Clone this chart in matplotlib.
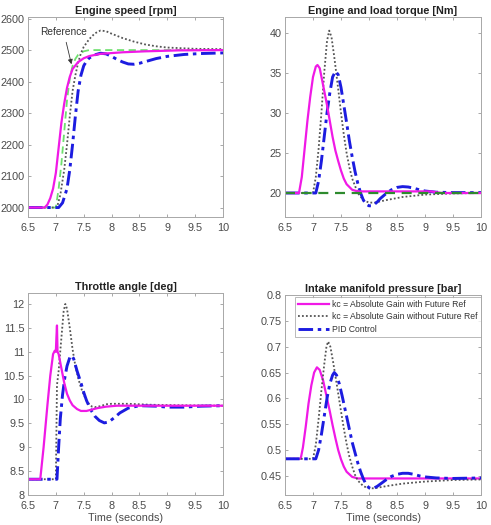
import matplotlib
matplotlib.use("Agg")
import matplotlib.pyplot as plt

# ---------------- data ----------------
# Engine speed [rpm]
spd_ref_t = [6.5, 7.0, 7.05, 7.1, 7.15, 7.2, 7.25, 7.3, 7.35, 7.4, 7.5, 7.6, 10.0]
spd_ref_v = [2000, 2000, 2060, 2140, 2240, 2340, 2410, 2450, 2472, 2485, 2496, 2500, 2500]
spd_fut_t = [6.5, 6.8, 6.85, 6.9, 6.95, 7.0, 7.05, 7.1, 7.15, 7.2, 7.25, 7.3, 7.4, 7.5, 7.6, 7.8, 8.2, 8.6, 9.2, 10.0]
spd_fut_v = [2000, 2000, 2010, 2030, 2060, 2110, 2190, 2270, 2330, 2380, 2415, 2440, 2462, 2474, 2481, 2488, 2493, 2496, 2499, 2500]
spd_nof_t = [6.5, 7.02, 7.08, 7.15, 7.2, 7.25, 7.3, 7.35, 7.4, 7.45, 7.5, 7.6, 7.7, 7.8, 7.9, 8.0, 8.2, 8.4, 8.6, 8.8, 9.0, 9.5, 10.0]
spd_nof_v = [2000, 2000, 2040, 2120, 2200, 2290, 2370, 2420, 2460, 2490, 2510, 2535, 2553, 2562, 2560, 2552, 2538, 2527, 2518, 2512, 2508, 2504, 2503]
spd_pid_t = [6.5, 7.05, 7.12, 7.2, 7.25, 7.3, 7.35, 7.4, 7.45, 7.5, 7.55, 7.6, 7.7, 7.8, 7.9, 8.0, 8.1, 8.2, 8.3, 8.4, 8.5, 8.6, 8.8, 9.0, 9.3, 9.6, 10.0]
spd_pid_v = [2000, 2000, 2015, 2060, 2120, 2200, 2290, 2370, 2420, 2450, 2465, 2475, 2485, 2490, 2488, 2480, 2470, 2462, 2456, 2455, 2458, 2463, 2473, 2480, 2486, 2489, 2491]

# Engine and load torque [Nm]
trq_load_t = [6.5, 10.0]
trq_load_v = [20, 20]
trq_fut_t = [6.5, 6.75, 6.8, 6.85, 6.9, 6.95, 7.0, 7.05, 7.08, 7.12, 7.18, 7.25, 7.3, 7.35, 7.4, 7.45, 7.5, 7.55, 7.6, 7.7, 7.8, 9.1, 9.3, 10.0]
trq_fut_v = [20, 20, 22, 25.5, 29, 32, 34.5, 35.8, 36, 35.6, 33.5, 31, 29, 27, 25.3, 24, 22.8, 21.8, 21.1, 20.4, 20.2, 20.2, 20.0, 20.0]
trq_nof_t = [6.5, 7.0, 7.05, 7.1, 7.15, 7.2, 7.25, 7.29, 7.33, 7.38, 7.45, 7.5, 7.55, 7.6, 7.65, 7.7, 7.8, 7.9, 8.0, 8.1, 8.3, 8.6, 9.0, 9.5, 10.0]
trq_nof_v = [20, 20, 22, 25.5, 30, 35, 39, 40.3, 39.5, 37, 33, 30, 27.3, 25, 23.2, 21.8, 20, 19.1, 18.8, 18.8, 19.1, 19.5, 19.8, 19.95, 20.0]
trq_pid_t = [6.5, 7.05, 7.1, 7.15, 7.2, 7.25, 7.3, 7.35, 7.4, 7.45, 7.5, 7.55, 7.6, 7.65, 7.7, 7.75, 7.8, 7.85, 7.9, 7.95, 8.0, 8.05, 8.1, 8.15, 8.2, 8.3, 8.4, 8.5, 8.6, 8.7, 8.8, 8.9, 9.0, 9.2, 9.5, 10.0]
trq_pid_v = [20, 20, 21.5, 24, 27, 30, 32.5, 34.5, 35.2, 34.8, 33.2, 31, 28.8, 26.5, 24.5, 22.7, 21.2, 20, 19.1, 18.6, 18.4, 18.4, 18.6, 18.9, 19.3, 19.9, 20.4, 20.7, 20.8, 20.75, 20.6, 20.4, 20.25, 20.1, 20.05, 20.05]

# Throttle angle [deg]
thr_fut_t = [6.5, 6.72, 6.78, 6.85, 6.9, 6.95, 6.98, 7.0, 7.01, 7.02, 7.03, 7.05, 7.1, 7.15, 7.2, 7.25, 7.3, 7.38, 7.45, 7.55, 7.65, 7.75, 7.9, 8.1, 8.4, 10.0]
thr_fut_v = [8.33, 8.33, 9.0, 9.9, 10.5, 10.95, 11.02, 11.0, 11.3, 11.55, 11.0, 10.95, 10.65, 10.35, 10.12, 9.98, 9.88, 9.8, 9.76, 9.76, 9.79, 9.82, 9.85, 9.87, 9.87, 9.87]
thr_nof_t = [6.5, 7.0, 7.01, 7.02, 7.05, 7.1, 7.14, 7.17, 7.2, 7.25, 7.3, 7.35, 7.4, 7.45, 7.5, 7.55, 7.6, 7.65, 7.7, 7.8, 7.9, 8.0, 8.3, 8.7, 9.2, 10.0]
thr_nof_v = [8.33, 8.33, 9.3, 10.3, 10.6, 11.3, 11.85, 12.0, 11.9, 11.5, 11.05, 10.7, 10.45, 10.25, 10.1, 9.98, 9.9, 9.85, 9.84, 9.86, 9.9, 9.91, 9.91, 9.89, 9.88, 9.87]
thr_pid_t = [6.5, 7.02, 7.05, 7.08, 7.12, 7.16, 7.2, 7.25, 7.28, 7.32, 7.38, 7.45, 7.5, 7.55, 7.6, 7.65, 7.7, 7.78, 7.87, 7.95, 8.05, 8.15, 8.3, 8.5, 8.8, 9.0, 9.3, 9.6, 10.0]
thr_pid_v = [8.33, 8.33, 9.0, 9.6, 10.1, 10.45, 10.7, 10.88, 10.92, 10.85, 10.6, 10.35, 10.15, 9.98, 9.85, 9.74, 9.65, 9.56, 9.51, 9.53, 9.62, 9.72, 9.82, 9.87, 9.86, 9.84, 9.84, 9.86, 9.87]

# Intake manifold pressure [bar]
prs_fut_t = [6.5, 6.78, 6.82, 6.87, 6.92, 6.97, 7.02, 7.07, 7.12, 7.18, 7.25, 7.3, 7.35, 7.4, 7.45, 7.5, 7.55, 7.6, 7.7, 7.8, 10.0]
prs_fut_v = [0.483, 0.483, 0.505, 0.545, 0.59, 0.625, 0.65, 0.66, 0.655, 0.635, 0.6, 0.575, 0.548, 0.523, 0.5, 0.482, 0.468, 0.458, 0.448, 0.445, 0.445]
prs_nof_t = [6.5, 7.0, 7.05, 7.1, 7.15, 7.2, 7.24, 7.27, 7.31, 7.36, 7.42, 7.5, 7.55, 7.6, 7.65, 7.7, 7.75, 7.8, 7.9, 8.0, 8.1, 8.3, 8.6, 9.0, 9.5, 10.0]
prs_nof_v = [0.483, 0.483, 0.51, 0.56, 0.615, 0.665, 0.7, 0.71, 0.7, 0.67, 0.63, 0.575, 0.542, 0.512, 0.487, 0.468, 0.452, 0.441, 0.43, 0.426, 0.426, 0.43, 0.435, 0.439, 0.442, 0.443]
prs_pid_t = [6.5, 7.05, 7.1, 7.15, 7.2, 7.25, 7.3, 7.35, 7.38, 7.42, 7.47, 7.52, 7.58, 7.64, 7.7, 7.75, 7.8, 7.85, 7.9, 7.95, 8.0, 8.05, 8.1, 8.15, 8.2, 8.3, 8.4, 8.5, 8.6, 8.7, 8.8, 8.9, 9.0, 9.2, 9.5, 10.0]
prs_pid_v = [0.483, 0.483, 0.5, 0.53, 0.565, 0.6, 0.628, 0.645, 0.65, 0.645, 0.628, 0.605, 0.575, 0.545, 0.515, 0.495, 0.475, 0.458, 0.444, 0.433, 0.427, 0.425, 0.427, 0.43, 0.434, 0.442, 0.449, 0.453, 0.455, 0.455, 0.453, 0.45, 0.448, 0.446, 0.445, 0.446]

xticks = [6.5, 7, 7.5, 8, 8.5, 9, 9.5, 10]
xticklabels = ["6.5", "7", "7.5", "8", "8.5", "9", "9.5", "10"]
legend_labels = ["kc = Absolute Gain with Future Ref",
                 "kc = Absolute Gain without Future Ref",
                 "PID Control"]

# ---------------- style ----------------
C_FUT = "#f019e6"
C_NOF = "#555555"
C_PID = "#1c1ce0"
C_REF = "#6ee06e"
C_LOAD = "#2e8b2e"
TXT = "#4a4a4a"

plt.rcParams["font.family"] = ["Liberation Sans", "DejaVu Sans"]

fig = plt.figure(figsize=(4.91, 5.25), dpi=100)
W, H = 491.0, 525.0

def make_ax(l, t, r, b):
    return fig.add_axes([l / W, 1 - b / H, (r - l) / W, (b - t) / H])

ax1 = make_ax(28, 17, 223, 217)
ax2 = make_ax(285, 17, 481, 217)
ax3 = make_ax(28, 293, 223, 495)
ax4 = make_ax(285, 295, 481, 495)

def style(ax, title):
    ax.set_title(title, fontsize=7.8, fontweight="bold", color="#222222", pad=2.0)
    ax.set_xlim(6.5, 10)
    ax.set_xticks(xticks)
    ax.set_xticklabels(xticklabels)
    ax.tick_params(direction="in", length=2.5, width=0.6, colors="#9a9a9a",
                   labelcolor=TXT, labelsize=7.8, top=True, right=True, pad=2.5)
    ax.tick_params(axis="x", pad=4.5)
    for s in ax.spines.values():
        s.set_color("#a8a8a8")
        s.set_linewidth(0.7)

def pid_line(ax, t, v, **kw):
    ln, = ax.plot(t, v, color=C_PID, lw=2.1, linestyle=(0, (5, 1.6, 1.2, 1.6)), **kw)
    return ln

# Engine speed
ax1.plot(spd_ref_t, spd_ref_v, color=C_REF, lw=1.3, linestyle=(0, (4, 2.5)))
ax1.plot(spd_nof_t, spd_nof_v, color=C_NOF, lw=1.3, linestyle=(0, (1, 1.2)))
pid_line(ax1, spd_pid_t, spd_pid_v)
ax1.plot(spd_fut_t, spd_fut_v, color=C_FUT, lw=1.6)
ax1.set_ylim(1970, 2605)
ax1.set_yticks([2000, 2100, 2200, 2300, 2400, 2500, 2600])
ax1.annotate("Reference", xy=(7.28, 2455), xytext=(6.72, 2558),
             fontsize=7.3, color="#333333", va="center", ha="left",
             arrowprops=dict(arrowstyle="-|>", color="#333333", lw=0.6,
                             mutation_scale=7, shrinkA=2, shrinkB=0))
style(ax1, "Engine speed [rpm]")

# Torque
ax2.plot(trq_nof_t, trq_nof_v, color=C_NOF, lw=1.3, linestyle=(0, (1, 1.2)))
pid_line(ax2, trq_pid_t, trq_pid_v)
ax2.plot(trq_fut_t, trq_fut_v, color=C_FUT, lw=1.6)
ax2.plot(trq_load_t, trq_load_v, color=C_LOAD, lw=1.6, linestyle=(0, (4.5, 3)))
ax2.set_ylim(17, 42)
ax2.set_yticks([20, 25, 30, 35, 40])
style(ax2, "Engine and load torque [Nm]")

# Throttle
ax3.plot(thr_nof_t, thr_nof_v, color=C_NOF, lw=1.3, linestyle=(0, (1, 1.2)))
pid_line(ax3, thr_pid_t, thr_pid_v)
ax3.plot(thr_fut_t, thr_fut_v, color=C_FUT, lw=1.6)
ax3.set_ylim(8, 12.23)
ax3.set_yticks([8, 8.5, 9, 9.5, 10, 10.5, 11, 11.5, 12])
ax3.set_yticklabels(["8", "8.5", "9", "9.5", "10", "10.5", "11", "11.5", "12"])
ax3.set_xlabel("Time (seconds)", fontsize=7.8, color=TXT, labelpad=1.5)
style(ax3, "Throttle angle [deg]")

# Pressure
l1, = ax4.plot(prs_fut_t, prs_fut_v, color=C_FUT, lw=1.6)
l2, = ax4.plot(prs_nof_t, prs_nof_v, color=C_NOF, lw=1.3, linestyle=(0, (1, 1.2)))
l3 = pid_line(ax4, prs_pid_t, prs_pid_v)
ax4.set_ylim(0.413, 0.8)
ax4.set_yticks([0.45, 0.5, 0.55, 0.6, 0.65, 0.7, 0.75, 0.8])
ax4.set_yticklabels(["0.45", "0.5", "0.55", "0.6", "0.65", "0.7", "0.75", "0.8"])
ax4.set_xlabel("Time (seconds)", fontsize=7.8, color=TXT, labelpad=1.5)
style(ax4, "Intake manifold pressure [bar]")
leg = ax4.legend([l1, l2, l3], legend_labels, loc="upper right",
                 bbox_to_anchor=(1.0, 0.99), fontsize=6.2, frameon=True,
                 fancybox=False, borderpad=0.35, labelspacing=0.4,
                 handlelength=3.6, handletextpad=0.4, borderaxespad=0.0)
leg.get_frame().set_edgecolor("#9a9a9a")
leg.get_frame().set_linewidth(0.6)
for t in leg.get_texts():
    t.set_color("#333333")

fig.savefig("out.png", dpi=100, facecolor="white")
